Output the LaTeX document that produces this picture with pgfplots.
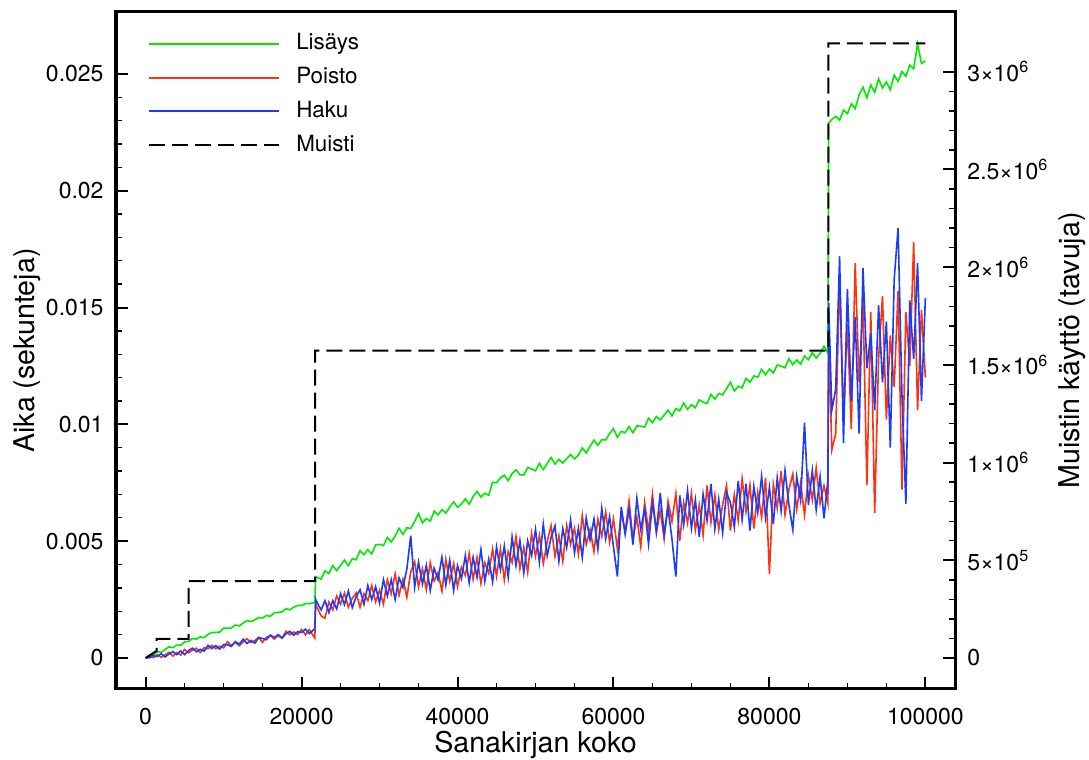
\documentclass[border=0pt]{standalone}
\usepackage{fontspec}
\setmainfont{TeX Gyre Heros}
\usepackage{pgfplots}
\usepackage{pgfplotstable}
\pgfplotsset{compat=1.18}
\definecolor{cgreen}{RGB}{0,235,0}
\definecolor{cred}{RGB}{255,50,15}
\definecolor{cblue}{RGB}{25,60,255}

\pgfplotstableread{
x g r b
0 0 0 0
500 0.00011 0.00007 0.00001
1000 0.00013 0.00001 0.00010
1500 0.00027 0.00014 0.00006
2000 0.00024 0.00003 0.00018
2500 0.00036 0.00013 0.00004
3000 0.00047 0.00024 0.00017
3500 0.00044 0.00008 0.00027
4000 0.00055 0.00023 0.00014
4500 0.00054 0.00012 0.00030
5000 0.00069 0.00036 0.00014
5500 0.00070 0.00022 0.00031
6000 0.00083 0.00033 0.00042
6500 0.00080 0.00041 0.00026
7000 0.00090 0.00023 0.00037
7500 0.00087 0.00044 0.00029
8000 0.00101 0.00039 0.00054
8500 0.00109 0.00054 0.00040
9000 0.00109 0.00039 0.00053
9500 0.00111 0.00050 0.00038
10000 0.00127 0.00043 0.00057
10500 0.00127 0.00069 0.00056
11000 0.00128 0.00053 0.00049
11500 0.00141 0.00067 0.00070
12000 0.00137 0.00052 0.00059
12500 0.00149 0.00069 0.00080
13000 0.00160 0.00082 0.00062
13500 0.00156 0.00066 0.00075
14000 0.00163 0.00074 0.00063
14500 0.00173 0.00088 0.00087
15000 0.00171 0.00067 0.00083
15500 0.00182 0.00089 0.00078
16000 0.00178 0.00095 0.00098
16500 0.00193 0.00081 0.00087
17000 0.00195 0.00095 0.00100
17500 0.00197 0.00084 0.00086
18000 0.00211 0.00114 0.00103
18500 0.00206 0.00099 0.00114
19000 0.00217 0.00111 0.00097
19500 0.00225 0.00100 0.00113
20000 0.00224 0.00122 0.00109
20500 0.00233 0.00099 0.00123
21000 0.00232 0.00121 0.00104
21700 0.00238 0.00085 0.00126
21800 0.00348 0.00230 0.00250
22500 0.00337 0.00180 0.00205
23000 0.00373 0.00170 0.00245
23500 0.00361 0.00240 0.00195
24000 0.00395 0.00205 0.00245
24500 0.00374 0.00265 0.00210
25000 0.00396 0.00230 0.00275
25500 0.00419 0.00278 0.00228
26000 0.00395 0.00217 0.00287
26500 0.00425 0.00255 0.00215
27000 0.00420 0.00278 0.00263
27500 0.00459 0.00217 0.00292
28000 0.00442 0.00275 0.00230
28500 0.00464 0.00245 0.00310
29000 0.00445 0.00310 0.00250
29500 0.00484 0.00240 0.00305
30000 0.00486 0.00290 0.00235
30500 0.00481 0.00230 0.00335
31000 0.00516 0.00335 0.00265
31500 0.00496 0.00275 0.00335
32000 0.00522 0.00360 0.00250
32500 0.00555 0.00268 0.00343
33000 0.00529 0.00337 0.00302
33500 0.00557 0.00260 0.00380
34000 0.00554 0.00368 0.00523
34500 0.00584 0.00412 0.00302
35000 0.00618 0.00305 0.00410
35500 0.00578 0.00381 0.00316
36000 0.00596 0.00292 0.00397
36500 0.00586 0.00408 0.00288
37000 0.00628 0.00329 0.00384
37500 0.00612 0.00365 0.00335
38000 0.00635 0.00286 0.00431
38500 0.00620 0.00422 0.00312
39000 0.00646 0.00328 0.00418
39500 0.00668 0.00404 0.00289
40000 0.00645 0.00305 0.00395
40500 0.00658 0.00389 0.00339
41000 0.00681 0.00353 0.00438
41500 0.00658 0.00447 0.00322
42000 0.00690 0.00336 0.00431
42500 0.00713 0.00430 0.00345
43000 0.00689 0.00319 0.00464
43500 0.00705 0.00408 0.00328
44000 0.00697 0.00362 0.00422
44500 0.00752 0.00466 0.00326
45000 0.00750 0.00350 0.00475
45500 0.00770 0.00467 0.00377
46000 0.00782 0.00334 0.00479
46500 0.00759 0.00456 0.00346
47000 0.00789 0.00408 0.00518
47500 0.00805 0.00520 0.00395
48000 0.00784 0.00382 0.00502
48500 0.00783 0.00474 0.00364
49000 0.00815 0.00366 0.00501
49500 0.00809 0.00533 0.00438
50000 0.00801 0.00435 0.00550
50500 0.00833 0.00524 0.00409
51000 0.00806 0.00403 0.00573
51500 0.00832 0.00497 0.00437
52000 0.00858 0.00566 0.00516
52500 0.00830 0.00435 0.00565
53000 0.00850 0.00524 0.00414
53500 0.00834 0.00413 0.00553
54000 0.00853 0.00567 0.00472
54500 0.00871 0.00486 0.00591
55000 0.00852 0.00555 0.00450
55500 0.00868 0.00445 0.00555
56000 0.00899 0.00610 0.00430
56500 0.00877 0.00485 0.00600
57000 0.00906 0.00550 0.00505
57500 0.00932 0.00455 0.00595
58000 0.00910 0.00595 0.00465
58500 0.00934 0.00520 0.00640
59000 0.00933 0.00625 0.00510
59500 0.00960 0.00495 0.00605
60000 0.00981 0.00595 0.00475
60500 0.00945 0.00468 0.00348
61000 0.00970 0.00626 0.00646
61500 0.00964 0.00539 0.00529
62000 0.00990 0.00672 0.00637
62500 0.00964 0.00505 0.00485
63000 0.00993 0.00603 0.00683
63500 0.00992 0.00476 0.00551
64000 0.00988 0.00664 0.00639
64500 0.01026 0.00542 0.00487
65000 0.01007 0.00700 0.00665
65500 0.01033 0.00533 0.00543
66000 0.01019 0.00631 0.00706
66500 0.01040 0.00509 0.00529
67000 0.01061 0.00672 0.00642
67500 0.01036 0.00585 0.00510
68000 0.01067 0.00703 0.00348
68500 0.01058 0.00501 0.00696
69000 0.01091 0.00664 0.00569
69500 0.01064 0.00577 0.00717
70000 0.01084 0.00705 0.00555
70500 0.01071 0.00547 0.00677
71000 0.01105 0.00654 0.00519
71500 0.01095 0.00526 0.00701
72000 0.01089 0.00738 0.00588
72500 0.01128 0.00580 0.00745
73000 0.01108 0.00697 0.00552
73500 0.01132 0.00549 0.00679
74000 0.01126 0.00656 0.00536
74500 0.01153 0.00738 0.00708
75000 0.01180 0.00545 0.00665
75500 0.01143 0.00699 0.00559
76000 0.01163 0.00588 0.00758
76500 0.01156 0.00767 0.00592
77000 0.01197 0.00626 0.00746
77500 0.01180 0.00740 0.00545
78000 0.01207 0.00554 0.00734
78500 0.01202 0.00708 0.00623
79000 0.01235 0.00602 0.00777
79500 0.01212 0.00771 0.00601
80000 0.01237 0.00360 0.00730
80500 0.01220 0.00743 0.00573
81000 0.01254 0.00641 0.00771
81500 0.01249 0.00799 0.00629
82000 0.01242 0.00612 0.00802
82500 0.01281 0.00720 0.00655
83000 0.01255 0.00788 0.00548
83500 0.01275 0.00636 0.00776
84000 0.01258 0.00749 0.00674
84500 0.01292 0.00612 0.01007
85000 0.01277 0.00780 0.00655
85500 0.01307 0.00677 0.00802
86000 0.01284 0.00814 0.00634
86500 0.01304 0.00661 0.00776
87000 0.01334 0.00738 0.00598
87500 0.01306 0.00660 0.00760
87600 0.02290 0.01380 0.01520
88000 0.02305 0.00890 0.01060
88500 0.02318 0.00960 0.01150
89000 0.02302 0.01620 0.01720
89500 0.02345 0.01050 0.00920
90000 0.02330 0.01430 0.01580
90500 0.02372 0.00980 0.01100
91000 0.02351 0.01690 0.01460
91500 0.02410 0.01180 0.00960
92000 0.02443 0.01530 0.01670
92500 0.02398 0.00740 0.01240
93000 0.02452 0.01480 0.01390
93500 0.02421 0.00620 0.01060
94000 0.02478 0.01280 0.01510
94500 0.02440 0.01550 0.01180
95000 0.02466 0.01020 0.01440
95500 0.02432 0.01380 0.00900
96000 0.02495 0.01160 0.01620
96500 0.02468 0.01570 0.01840
97000 0.02510 0.00720 0.01120
97500 0.02490 0.01480 0.00660
98000 0.02538 0.01250 0.01530
98500 0.02522 0.01780 0.01280
99000 0.02628 0.01060 0.01690
99500 0.02545 0.01490 0.01100
100000 0.02556 0.01200 0.01540
}\timedata

\pgfplotsset{
  common/.style={
    width=419.5pt, height=338.5pt, scale only axis,
    xmin=-3800, xmax=103800,
    scaled x ticks=false, scaled y ticks=false,
    axis line style={line width=1.5pt},
    tick align=inside,
    major tick length=6pt, minor tick length=3pt,
    every major tick/.append style={line width=1pt, black},
    every minor tick/.append style={line width=0.7pt, black},
    tick label style={font=\fontsize{11.5}{13}\selectfont},
    label style={font=\fontsize{14.3}{16}\selectfont},
  }
}

\begin{document}
\begin{tikzpicture}
\begin{axis}[
  common,
  name=main,
  ymin=-0.00133, ymax=0.02765,
  xtick={0,20000,40000,60000,80000,100000},
  xticklabels={0,20000,40000,60000,80000,100000},
  minor x tick num=3,
  ytick={0,0.005,0.01,0.015,0.02,0.025},
  yticklabels={0,0.005,0.01,0.015,0.02,0.025},
  minor y tick num=4,
  tick pos=left,
  xticklabel style={yshift=-6pt},
  yticklabel style={xshift=-2.7pt},
  xlabel={Sanakirjan koko},
  xlabel style={at={(axis description cs:0.5,-0.0827)}, anchor=center},
  ylabel={Aika (sekunteja)},
  ylabel style={at={(axis description cs:-0.106,0.5)}, anchor=center},
]
\addplot[cgreen, line width=0.8pt] table[x=x, y=g] {\timedata};
\addplot[cred, line width=0.8pt] table[x=x, y=r] {\timedata};
\addplot[cblue, line width=0.8pt] table[x=x, y=b] {\timedata};
\end{axis}
\begin{axis}[
  common,
  ymin=-158650, ymax=3306000,
  xtick=\empty,
  ytick={0,500000,1000000,1500000,2000000,2500000,3000000},
  yticklabels={0,{5×10\textsuperscript{5}},{1×10\textsuperscript{6}},{1.5×10\textsuperscript{6}},{2×10\textsuperscript{6}},{2.5×10\textsuperscript{6}},{3×10\textsuperscript{6}}},
  minor y tick num=4,
  ytick pos=right,
  yticklabel pos=right,
  yticklabel style={xshift=2.7pt},
  ylabel={Muistin käyttö (tavuja)},
  ylabel style={at={(axis description cs:1.1395,0.5)}, anchor=center, rotate=0},
  legend cell align=left,
  legend image code/.code={\draw[#1] (0pt,0pt) -- (65pt,0pt);},
  legend style={draw=none, fill=none, at={(axis description cs:0.038,0.97)}, anchor=north west,
    font=\fontsize{11.2}{13}\selectfont, row sep=5.9pt, column sep=8pt, inner sep=0pt,
    nodes={inner sep=0pt, text height=8.5pt, text depth=2.5pt}},
]
\addlegendimage{draw=cgreen, line width=1pt}\addlegendentry{Lisäys}
\addlegendimage{draw=cred, line width=1pt}\addlegendentry{Poisto}
\addlegendimage{draw=cblue, line width=1pt}\addlegendentry{Haku}
\addplot[black, line width=1pt, dash pattern=on 8pt off 3.5pt] coordinates {
(0,0) (1400,36000) (1400,98304) (5500,98304) (5500,393216) (21750,393216)
(21750,1572864) (87550,1572864) (87550,3145728) (100000,3145728)};
\addlegendentry{Muisti}
\end{axis}
\pgfresetboundingbox
\path[use as bounding box] ([xshift=-58pt,yshift=-35.5pt]main.south west) rectangle ([xshift=67pt,yshift=6pt]main.north east);
\end{tikzpicture}
\end{document}
